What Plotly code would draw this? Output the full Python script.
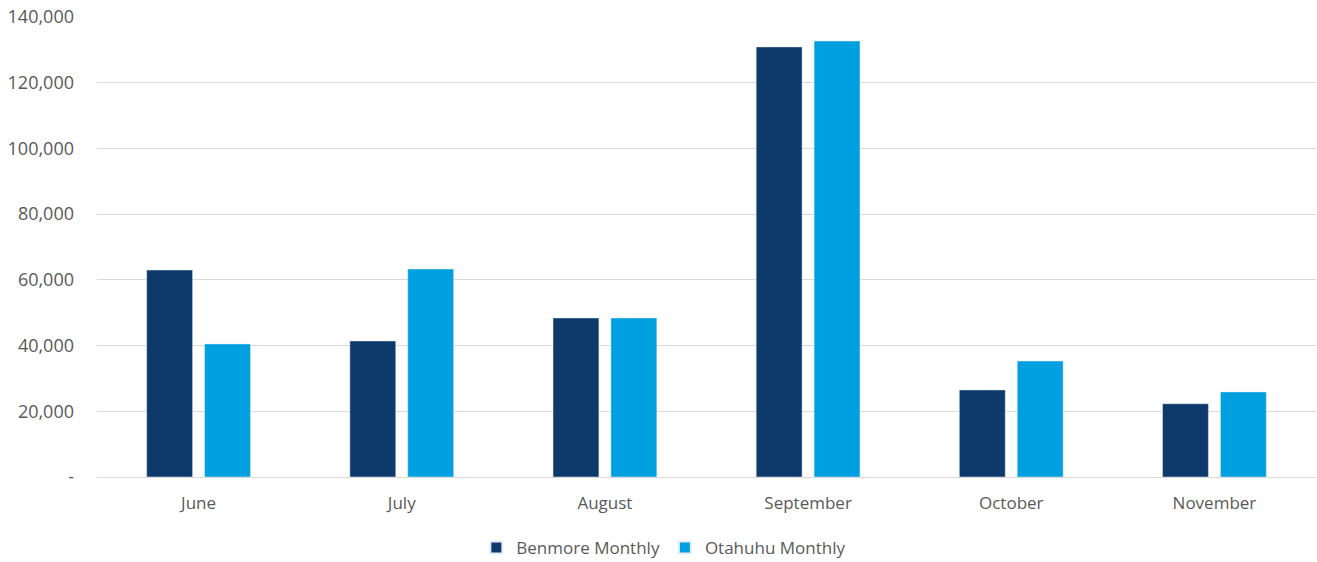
import plotly.graph_objects as go

months = ["June", "July", "August", "September", "October", "November"]
benmore = [63000, 41400, 48400, 130900, 26500, 22300]
otahuhu = [40500, 63300, 48400, 132700, 35300, 25900]
tick_vals = [0, 20000, 40000, 60000, 80000, 100000, 120000, 140000]
tick_text = ["-", "20,000", "40,000", "60,000", "80,000", "100,000", "120,000", "140,000"]

fig = go.Figure()
fig.add_trace(go.Bar(x=months, y=benmore, name="Benmore Monthly", marker_color="#0E3A6B"))
fig.add_trace(go.Bar(x=months, y=otahuhu, name="Otahuhu Monthly", marker_color="#00A0E0"))

font = "Open Sans, Liberation Sans, sans-serif"
fig.update_layout(
    width=1317, height=562,
    margin=dict(l=97, r=1, t=17, b=85, autoexpand=False),
    paper_bgcolor="white", plot_bgcolor="white",
    barmode="group", bargap=0.43, bargroupgap=0.207,
    font=dict(family=font, size=17, color="#595959"),
    legend=dict(orientation="h", x=0.465, xanchor="center", y=-0.154, yanchor="middle",
                font=dict(size=17, color="#595959"), itemsizing="constant"),
    xaxis=dict(showgrid=False, showline=False, ticks="", tickfont=dict(size=17),
               ticklabelstandoff=14, automargin=False),
    yaxis=dict(range=[0, 140000], tickvals=tick_vals, ticktext=tick_text,
               showgrid=True, gridcolor="#D9D9D9", gridwidth=1, zeroline=True,
               zerolinecolor="#D9D9D9", zerolinewidth=1, ticks="", ticklabelstandoff=22,
               tickfont=dict(size=18), automargin=False),
)
fig.write_html(
    "out.html",
    config={"responsive": False, "displayModeBar": False},
    post_script="document.body.style.margin='0';document.body.style.overflow='hidden';",
)
